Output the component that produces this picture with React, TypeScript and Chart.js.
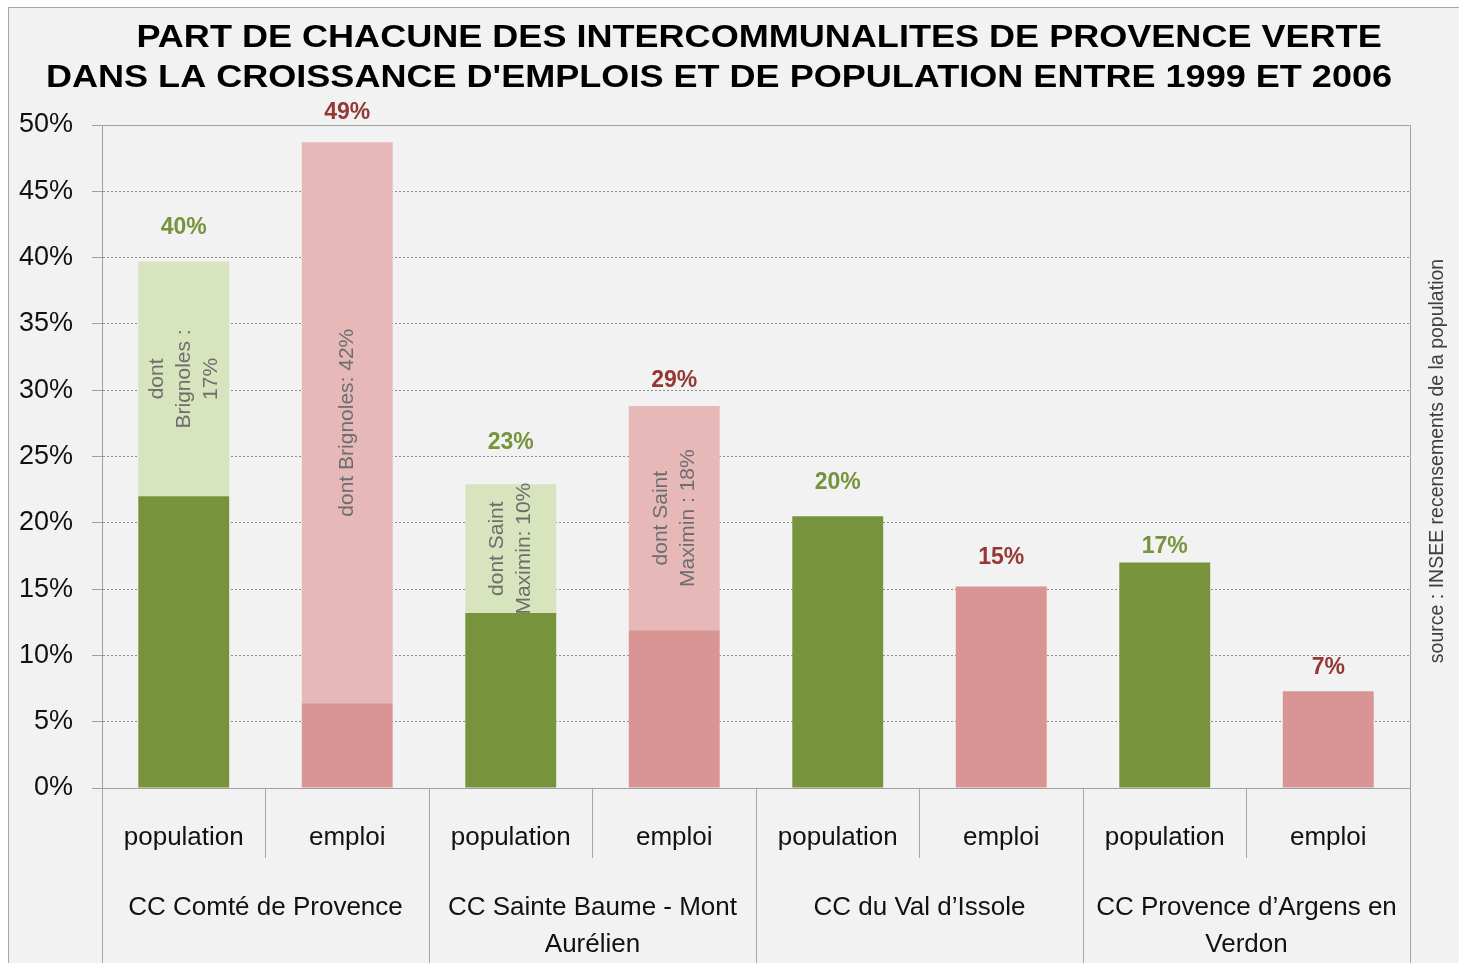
import React, { useEffect, useRef } from "react";
import { Chart, registerables } from "chart.js";

Chart.register(...registerables);

// ---- data ----
const categories = ["population", "emploi", "population", "emploi", "population", "emploi", "population", "emploi"];
const groups: (string | string[])[] = [
  "CC Comté de Provence",
  ["CC Sainte Baume - Mont", "Aurélien"],
  "CC du Val d’Issole",
  ["CC Provence d’Argens en", "Verdon"],
];
const baseValues = [22.0, 6.4, 13.2, 11.9, 20.5, 15.2, 17.0, 7.3];
const partValues = [17.7, 42.3, 9.7, 16.9, 0, 0, 0, 0];
const totalLabels = ["40%", "49%", "23%", "29%", "20%", "15%", "17%", "7%"];
const partLabels: (string[] | null)[] = [
  ["dont", "Brignoles :", "17%"],
  ["dont Brignoles: 42%"],
  ["dont Saint", "Maximin: 10%"],
  ["dont Saint", "Maximin : 18%"],
  null,
  null,
  null,
  null,
];
const titleLines = [
  "        PART DE CHACUNE DES INTERCOMMUNALITES DE PROVENCE VERTE",
  "DANS LA CROISSANCE D'EMPLOIS ET DE POPULATION ENTRE 1999 ET 2006",
];
const sourceText = "source : INSEE recensements de la population";

// ---- style ----
const FONT = '"Liberation Sans", Arial, sans-serif';
const darkColors = { population: "#77933c", emploi: "#d99594" };
const lightColors = { population: "#d7e4bd", emploi: "#e6b9b8" };
const valueColors = { population: "#77933c", emploi: "#953735" };
const labelLift = [34, 30, 42, 25, 34, 29, 16, 24];
const W = 1470;
const H = 975;

const titlePlugin = {
  id: "stretchedTitle",
  afterDraw(chart: any) {
    const { ctx } = chart;
    ctx.save();
    ctx.font = `bold 31px ${FONT}`;
    ctx.fillStyle = "#000000";
    ctx.textAlign = "center";
    ctx.textBaseline = "middle";
    titleLines.forEach((line, i) => {
      ctx.save();
      ctx.translate(710, 30 + i * 40);
      ctx.scale(1.163, 1);
      ctx.fillText(line, 0, 0);
      ctx.restore();
    });
    ctx.restore();
  },
};

const framePlugin = {
  id: "frame",
  beforeDatasetsDraw(chart: any) {
    const { ctx, chartArea } = chart;
    ctx.save();
    ctx.strokeStyle = "#a0a0a0";
    ctx.lineWidth = 1;
    ctx.beginPath();
    ctx.moveTo(chartArea.left, Math.round(chartArea.top) + 0.5);
    ctx.lineTo(Math.round(chartArea.right) + 0.5, Math.round(chartArea.top) + 0.5);
    ctx.lineTo(Math.round(chartArea.right) + 0.5, chartArea.bottom);
    ctx.stroke();
    ctx.restore();
  },
};

const labelPlugin = {
  id: "barLabels",
  afterDatasetsDraw(chart: any) {
    const { ctx } = chart;
    const yScale = chart.scales.y;
    const metaBase = chart.getDatasetMeta(0);
    const metaPart = chart.getDatasetMeta(1);
    ctx.save();
    ctx.textAlign = "center";
    ctx.textBaseline = "middle";
    partLabels.forEach((lines, i) => {
      if (!lines) return;
      const el = metaPart.data[i];
      const cx = el.x;
      const cy = (el.y + el.base) / 2;
      ctx.save();
      ctx.translate(cx, cy);
      ctx.rotate(-Math.PI / 2);
      ctx.font = `21px ${FONT}`;
      ctx.fillStyle = "#6e6e6e";
      const lh = 27;
      lines.forEach((t, j) => ctx.fillText(t, 0, (j - (lines.length - 1) / 2) * lh));
      ctx.restore();
    });
    totalLabels.forEach((t, i) => {
      const total = baseValues[i] + partValues[i];
      const py = yScale.getPixelForValue(total) - labelLift[i];
      const x = metaBase.data[i].x;
      ctx.font = `bold 23px ${FONT}`;
      ctx.fillStyle = (valueColors as any)[categories[i]];
      ctx.fillText(t, x, py);
    });
    // source note
    ctx.save();
    ctx.translate(1429, 453);
    ctx.rotate(-Math.PI / 2);
    ctx.font = `19.5px ${FONT}`;
    ctx.fillStyle = "#404040";
    ctx.fillText(sourceText, 0, 0);
    ctx.restore();
    ctx.restore();
  },
};

export default function App() {
  const ref = useRef<HTMLCanvasElement | null>(null);

  useEffect(() => {
    document.body.style.overflow = "hidden";
    const canvas = ref.current!;
    const chart = new Chart(canvas, {
      type: "bar",
      data: {
        labels: categories,
        datasets: [
          {
            label: "base",
            data: baseValues,
            backgroundColor: categories.map((c) => (darkColors as any)[c]),
            borderWidth: 0,
            stack: "s",
            barPercentage: 0.556,
            categoryPercentage: 1,
          },
          {
            label: "part",
            data: partValues,
            backgroundColor: categories.map((c) => (lightColors as any)[c]),
            borderWidth: 0,
            stack: "s",
            barPercentage: 0.556,
            categoryPercentage: 1,
          },
        ],
      },
      options: {
        responsive: false,
        animation: false,
        devicePixelRatio: 1,
        layout: { padding: { left: 0, right: 69, top: 117, bottom: 0 }, autoPadding: false } as any,
        plugins: {
          legend: { display: false },
          tooltip: { enabled: false },
          title: { display: false },
        },
        scales: {
          x: {
            stacked: true,
            offset: true,
            position: "bottom",
            grid: {
              display: true,
              offset: true,
              drawOnChartArea: false,
              drawTicks: true,
              tickLength: 70,
              color: "#a6a6a6",
            },
            border: { display: true, color: "#a0a0a0" },
            ticks: {
              color: "#111111",
              font: { family: FONT, size: 26, lineHeight: 1.2 },
              padding: -35.6,
              maxRotation: 0,
              autoSkip: false,
            },
            afterFit: (s: any) => {
              s.height = 70;
            },
          },
          x2: {
            type: "category",
            labels: groups as any,
            offset: true,
            position: "bottom",
            grid: {
              display: true,
              offset: true,
              drawOnChartArea: false,
              drawTicks: true,
              tickLength: 125,
              color: "#a6a6a6",
            },
            border: { display: false },
            ticks: {
              color: "#111111",
              font: { family: FONT, size: 26, lineHeight: 1.4 },
              padding: -93.2,
              maxRotation: 0,
              autoSkip: false,
            },
            afterFit: (s: any) => {
              s.height = 125;
            },
          },
          y: {
            stacked: true,
            min: 0,
            max: 50,
            grid: {
              color: "#8c8c8c",
              tickBorderDash: [],
              tickLength: 10,
              tickColor: "#a0a0a0",
            } as any,
            border: { display: true, color: "#a0a0a0", dash: [2, 2] } as any,
            ticks: {
              stepSize: 5,
              color: "#111111",
              font: { family: FONT, size: 27 },
              padding: 19,
              callback: (v: any) => `${v}%`,
            },
            afterFit: (s: any) => {
              s.width = 93;
            },
          },
        },
      } as any,
      plugins: [framePlugin, labelPlugin, titlePlugin],
    });
    return () => chart.destroy();
  }, []);

  return (
    <div
      style={{
        position: "fixed",
        left: 8,
        top: 7,
        width: W,
        height: H,
        background: "#f2f2f2",
        borderLeft: "1px solid #a6a6a6",
        borderTop: "1px solid #a6a6a6",
      }}
    >
      <canvas ref={ref} width={W} height={H} style={{ display: "block", width: W, height: H }} />
    </div>
  );
}
